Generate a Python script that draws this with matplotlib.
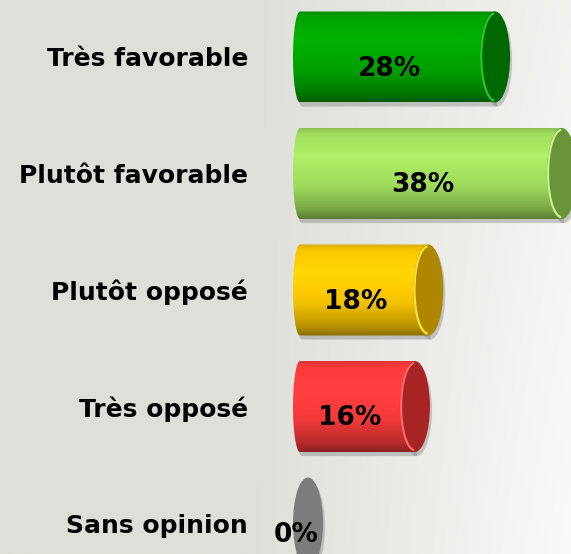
import numpy as np
import matplotlib
matplotlib.use('Agg')
import matplotlib.pyplot as plt
from matplotlib.patches import Ellipse, PathPatch, Arc
from matplotlib.path import Path
from matplotlib.colors import to_rgb


categories = ['Très favorable', 'Plutôt favorable', 'Plutôt opposé', 'Très opposé', 'Sans opinion']
values = [28, 38, 18, 16, 0]
body_colors = ['#00A800', '#A6E460', '#FFCC00', '#FF3C3C', '#858585']
cap_colors = ['#006800', '#6A9438', '#AE8600', '#A82424', '#7C7C7C']
rim_colors = ['#30C030', '#C8F090', '#FFE040', '#FF6A6A', '#8C8C8C']

W, H = 571, 554
scale = 6.68      # px par %
x0 = 308          # px de la valeur 0
step = 116.5      # px entre barres
first = 57        # px centre premiere barre
a = 15 / scale    # demi-largeur ellipse avant (unites x)
a_left = 7 / scale  # arrondi du bord gauche
b = 45.5 / step   # demi-hauteur barre (unites y)

fig = plt.figure(figsize=(W / 100, H / 100), dpi=100)

# fond en degrade
bg = fig.add_axes([0, 0, 1, 1])
bg.axis('off')
xs = np.linspace(0, W, 300)
ys = np.linspace(0, 1, 120)
t = np.clip((xs - 250) / 321, 0, 1)
amt = t[None, :] * (0.7 + 0.3 * ys[:, None])
c_left = np.array([222, 223, 216]) / 255
c_right = np.array([250, 250, 249]) / 255
img = c_left[None, None, :] * (1 - amt[..., None]) + c_right[None, None, :] * amt[..., None]
bg.imshow(img, extent=[0, 1, 0, 1], aspect='auto', origin='upper')
bg.set_xlim(0, 1)
bg.set_ylim(0, 1)

ax = fig.add_axes([(x0 - 15) / W, 0, (W - x0 + 15) / W, 1])
ax.set_facecolor('none')

prof_pos = np.array([0, 0.06, 0.3, 0.65, 0.9, 1])
prof_fac = np.array([0.85, 0.97, 1.06, 0.95, 0.72, 0.55])
grad = np.interp(np.linspace(0, 1, 100), prof_pos, prof_fac)

left0 = -a  # bord gauche de toutes les barres


def body_path(L, c):
    # bord gauche : rectangle aux coins arrondis
    th = np.linspace(np.pi / 2, 3 * np.pi / 2, 40)
    ex = left0 + a_left + a_left * np.cos(th)
    ey = c - b * np.sin(th)
    pts = np.vstack([[[L, c - b]], np.column_stack([ex, ey]), [[L, c + b]], [[L, c - b]]])
    return Path(pts, closed=True)


for i, v in enumerate(values):
    c = i
    L = v
    # ombre
    sh = body_path(L, c)
    sh = Path(sh.vertices + np.array([0.3, 0.035]), closed=True)
    ax.add_patch(PathPatch(sh, facecolor='#707070', edgecolor='none', alpha=0.35, zorder=1))
    ax.add_patch(Ellipse((L + 0.3, c + 0.035), 2 * a, 2 * b, facecolor='#707070', edgecolor='none', alpha=0.35, zorder=1))

    # corps
    if v > 0:
        p = PathPatch(body_path(L, c), facecolor='none', edgecolor='none', zorder=2)
        ax.add_patch(p)
        base = np.array(to_rgb(body_colors[i]))
        gimg = np.clip(base[None, None, :] * grad[:, None, None], 0, 1)
        im = ax.imshow(gimg, extent=[left0, L + a, c + b, c - b], origin='upper', aspect='auto', zorder=2)
        im.set_clip_path(p)

    # face avant
    ax.add_patch(Ellipse((L, c), 2 * a, 2 * b, facecolor=cap_colors[i], edgecolor='none', zorder=3))
    if v > 0:
        ax.add_patch(Arc((L, c), 2 * a * 0.92, 2 * b * 0.96, theta1=105, theta2=255,
                         color=rim_colors[i], lw=1.6, zorder=4))

    ax.text(v / 2 - 1.8, c + 0.1, f'{v}%', ha='center', va='center',
            fontsize=19, fontweight='bold', color='black', zorder=10)

ax.set_xlim((x0 - 15 - x0) / scale, (W - x0) / scale)
ax.set_ylim((H - first) / step, -first / step)
ax.set_yticks(range(len(categories)), categories, fontsize=18, fontweight='bold')
ax.set_xticks([])
ax.tick_params(axis='y', length=0, pad=45 * 72 / 100)
for s in ax.spines.values():
    s.set_visible(False)

fig.savefig('out.png', dpi=100)
